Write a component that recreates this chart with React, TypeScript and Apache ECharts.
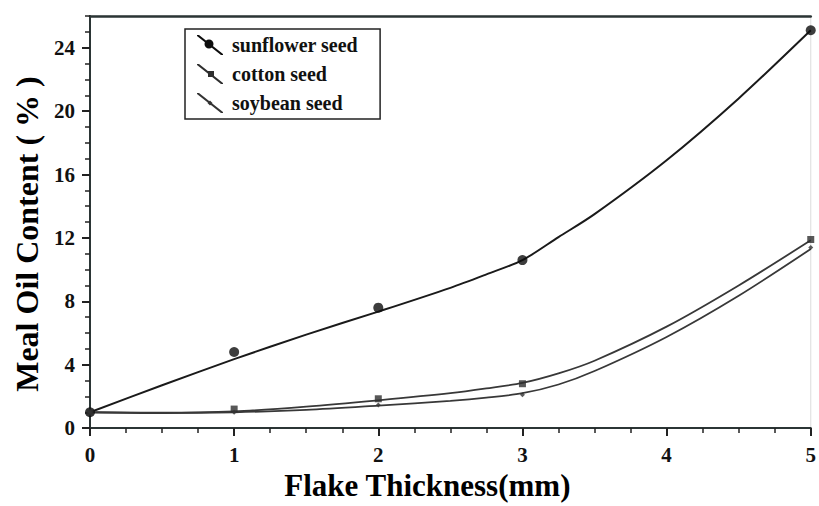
import React, { useEffect, useRef } from "react";
import * as echarts from "echarts";

// Measured points
const pointX = [0, 1, 2, 3, 5];
const sunflowerPts = [1.0, 4.8, 7.6, 10.6, 25.1];
const cottonPts = [1.0, 1.2, 1.85, 2.8, 11.9];
const soybeanPts = [1.0, 1.0, 1.45, 2.1, 11.4];

// Fitted curves
const curveX = [0, 0.5, 1, 1.5, 2, 2.5, 2.75, 3, 3.25, 3.5, 4, 4.5, 5];
const sunflowerCurve = [1.0, 2.7, 4.35, 5.9, 7.35, 8.85, 9.7, 10.6, 12.05, 13.5, 16.9, 20.8, 25.1];
const cottonCurve = [1.0, 0.97, 1.05, 1.35, 1.75, 2.2, 2.5, 2.85, 3.45, 4.25, 6.4, 9.0, 11.85];
const soybeanCurve = [1.0, 0.95, 1.0, 1.15, 1.42, 1.72, 1.92, 2.2, 2.75, 3.6, 5.75, 8.35, 11.3];

const seriesNames = ["sunflower seed", "cotton seed", "soybean seed"];

const FONT = "'Liberation Serif', 'Times New Roman', serif";
const LINE = "#1a1a1a";
const AXIS = "#2b3535";

const pair = (xs: number[], ys: number[]) => xs.map((x, i) => [x, ys[i]]);

// legend icon shapes (26 x 20 box)
const slant = "M0,0 L2,0 L26,19 L26,20 L24,20 L0,1 Z";
const dot = (() => {
  const n = 16;
  const pts: string[] = [];
  for (let k = 0; k < n; k++) {
    const a = (k / n) * Math.PI * 2;
    pts.push((k === 0 ? "M" : "L") + (12 + 4.5 * Math.cos(a)).toFixed(2) + "," + (9 + 4.5 * Math.sin(a)).toFixed(2));
  }
  return pts.join(" ") + " Z";
})();
const icons = [
  "path://" + slant + " " + dot,
  "path://" + slant + " M11,7 L17,7 L17,13 L11,13 Z",
  "path://" + slant + " M13,7.5 L15.5,10 L13,12.5 L10.5,10 Z",
];

export default function App() {
  const ref = useRef<HTMLDivElement>(null);
  useEffect(() => {
    if (!ref.current) return;
    const chart = echarts.init(ref.current, null, { renderer: "svg" });
    const curves = [sunflowerCurve, cottonCurve, soybeanCurve];
    const pts = [sunflowerPts, cottonPts, soybeanPts];
    const symbols = ["circle", "rect", "diamond"];
    const sizes = [10, 7, 5];
    const colors = ["#0d0d0d", "#2e2e2e", "#333333"];
    const series: any[] = [];
    seriesNames.forEach((name, i) => {
      series.push({
        type: "line",
        name,
        data: pair(curveX, curves[i]),
        smooth: 0.3,
        showSymbol: false,
        symbol: "none",
        lineStyle: { color: i === 0 ? LINE : "#383838", width: i === 0 ? 2 : 1.8 },
        itemStyle: { color: colors[i] },
        z: 3,
      });
      series.push({
        type: "scatter",
        name,
        data: pair(pointX, pts[i]),
        symbol: symbols[i],
        symbolSize: sizes[i],
        itemStyle: { color: colors[i] },
        z: 4,
      });
    });
    const labelStyle = {
      fontFamily: FONT,
      fontWeight: "bold",
      fontSize: 21,
      color: "#111",
    };
    chart.setOption({
      animation: false,
      backgroundColor: "#ffffff",
      grid: {
        left: 90,
        right: 6,
        top: 16,
        bottom: 75,
        show: true,
        borderColor: "#dcdcdc",
        borderWidth: 1,
      },
      legend: {
        orient: "vertical",
        left: 185,
        top: 29,
        padding: [6, 22, 6, 12],
        itemWidth: 26,
        itemHeight: 20,
        itemGap: 9,
        borderColor: "#222",
        borderWidth: 1.5,
        data: seriesNames.map((n, i) => ({ name: n, icon: icons[i] })),
        textStyle: {
          fontFamily: FONT,
          fontWeight: "bold",
          fontSize: 20,
          color: "#111",
          padding: [0, 0, 0, 4],
        },
      },
      xAxis: [
        {
          type: "value",
          min: 0,
          max: 5,
          interval: 1,
          position: "bottom",
          axisLine: { show: true, onZero: false, lineStyle: { color: AXIS, width: 2 } },
          axisTick: { show: true, length: 8, lineStyle: { color: "#222", width: 2 } },
          minorTick: { show: true, splitNumber: 4, length: 5, lineStyle: { color: "#222", width: 1.5 } },
          splitLine: { show: false },
          minorSplitLine: { show: false },
          axisLabel: { ...labelStyle, margin: 16 },
          name: "Flake Thickness(mm)",
          nameLocation: "middle",
          nameGap: 40,
          nameTextStyle: {
            fontFamily: FONT,
            fontWeight: "bold",
            fontSize: 31,
            color: "#000",
            padding: [0, 46, 0, 0],
          },
        },
        {
          type: "value",
          min: 0,
          max: 5,
          position: "top",
          axisLine: { show: true, onZero: false, lineStyle: { color: AXIS, width: 2.5 } },
          axisTick: { show: false },
          axisLabel: { show: false },
          splitLine: { show: false },
        },
      ],
      yAxis: [
        {
          type: "value",
          min: 0,
          max: 26,
          interval: 4,
          position: "left",
          axisLine: { show: true, onZero: false, lineStyle: { color: AXIS, width: 2 } },
          axisTick: { show: true, length: 8, lineStyle: { color: "#222", width: 2 } },
          splitLine: { show: false },
          axisLabel: { ...labelStyle, margin: 15, showMaxLabel: false },
          name: "Meal Oil Content ( % )",
          nameLocation: "middle",
          nameGap: 47,
          nameTextStyle: {
            fontFamily: FONT,
            fontWeight: "bold",
            fontSize: 32,
            color: "#000",
            padding: [0, 24, 0, 0],
          },
        },
        {
          type: "value",
          min: 0,
          max: 26,
          interval: 1,
          position: "left",
          axisLine: { show: false },
          axisTick: { show: true, length: 5, lineStyle: { color: "#222", width: 1.5 } },
          axisLabel: { show: false },
          splitLine: { show: false },
        },
      ],
      series,
    });
    return () => chart.dispose();
  }, []);
  return (
    <div
      ref={ref}
      style={{ position: "fixed", left: 0, top: 0, width: 819, height: 506, background: "#fff" }}
    />
  );
}
